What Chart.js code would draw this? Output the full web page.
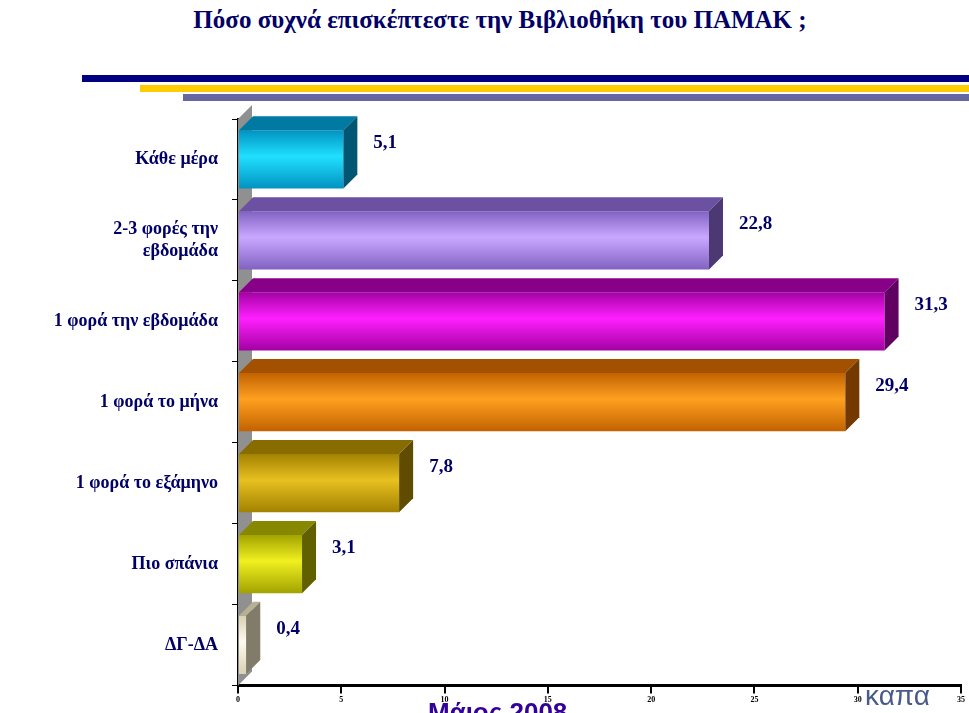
<!DOCTYPE html>
<html><head><meta charset="utf-8">
<script src="https://cdn.jsdelivr.net/npm/chart.js@4"></script>
<style>
body{margin:0;width:969px;height:713px;overflow:hidden;background:#fff;position:relative;font-family:"Liberation Serif",serif}
#t{position:absolute;top:6px;left:0;width:1000px;text-align:center;color:#000066;font-weight:bold;font-size:25px}
.ln{position:absolute;right:0}
#c{position:absolute;left:0;top:0}
#may{position:absolute;left:428px;top:697px;color:#330099;font-family:"Liberation Sans";font-weight:bold;font-size:26px}
#kapa{position:absolute;left:865px;top:680px;color:#4a5a8a;font-family:"Liberation Sans";font-size:28px}
</style></head><body>
<div id="t">Πόσο συχνά επισκέπτεστε την Βιβλιοθήκη του ΠΑΜΑΚ ;</div>
<div class="ln" style="top:75px;left:82px;height:7px;background:#000080"></div>
<div class="ln" style="top:85px;left:140px;height:7px;background:#ffcc00"></div>
<div class="ln" style="top:94px;left:183px;height:7px;background:#6666a0"></div>
<canvas id="c" width="969" height="713"></canvas>
<div id="may">Μάιος 2008</div>
<div id="kapa">καπα</div>
<script>
const categories=["Κάθε μέρα",["2-3 φορές την","εβδομάδα"],"1 φορά την εβδομάδα","1 φορά το μήνα","1 φορά το εξάμηνο","Πιο σπάνια","ΔΓ-ΔΑ"];
const values=[5.1,22.8,31.3,29.4,7.8,3.1,0.4];
const xTicks=[0,5,10,15,20,25,30,35];
const colors=[["#20e0ff","#0090c0"],["#c8a8ff","#8060c0"],["#ff20ff","#a000a0"],["#ffa020","#c06000"],["#e8c020","#a08000"],["#f0f020","#a0a000"],["#fffaf0","#d8d0b0"]];
const D=14;
function shade(h,f){const n=parseInt(h.slice(1),16);let r=(n>>16)*f,g=(n>>8&255)*f,b=(n&255)*f;return `rgb(${r|0},${g|0},${b|0})`;}
const depth={id:'depth',beforeDatasetsDraw(ch){const c=ch.ctx,a=ch.chartArea;c.save();c.fillStyle='#909090';c.beginPath();c.moveTo(a.left,a.bottom);c.lineTo(a.left,a.top);c.lineTo(a.left+D,a.top-D);c.lineTo(a.left+D,a.bottom-D);c.closePath();c.fill();c.restore();},
afterDatasetsDraw(ch){const c=ch.ctx;c.save();ch.getDatasetMeta(0).data.forEach((b,i)=>{const x0=b.base,x1=b.x,y0=b.y-b.height/2,y1=b.y+b.height/2;const col=colors[i][1];
c.fillStyle=shade(col,0.85);c.beginPath();c.moveTo(x0,y0);c.lineTo(x0+D,y0-D);c.lineTo(x1+D,y0-D);c.lineTo(x1,y0);c.fill();
c.fillStyle=shade(col,0.6);c.beginPath();c.moveTo(x1,y0);c.lineTo(x1+D,y0-D);c.lineTo(x1+D,y1-D);c.lineTo(x1,y1);c.fill();
c.fillStyle='#000066';c.font='bold 19px "Liberation Serif"';c.textBaseline='middle';c.fillText(values[i].toFixed(1).replace('.',','),x1+D+16,b.y-D-2);});c.restore();}};
new Chart(document.getElementById('c'),{type:'bar',
data:{labels:categories,datasets:[{data:values,borderWidth:0,barPercentage:0.72,categoryPercentage:1,
backgroundColor:(ctx)=>{const ch=ctx.chart,a=ch.chartArea;const c=colors[ctx.dataIndex];if(!a||!ch.scales.y)return c[0];const y=ch.scales.y.getPixelForValue(ctx.dataIndex);if(!isFinite(y))return c[0];const h=30;const g=ch.ctx.createLinearGradient(0,y-h,0,y+h);g.addColorStop(0,c[1]);g.addColorStop(0.45,c[0]);g.addColorStop(1,c[1]);return g;}}]},
options:{indexAxis:'y',responsive:false,animation:false,events:[],
layout:{padding:{top:119,right:8,bottom:6,left:0}},
plugins:{legend:{display:false},tooltip:{enabled:false}},
scales:{x:{min:0,max:35,afterBuildTicks:s=>{s.ticks=xTicks.map(v=>({value:v}));},
grid:{drawOnChartArea:false,color:'#000',tickLength:8,lineWidth:2},border:{color:'#000',width:3},
ticks:{color:'#000',font:{size:8,weight:'bold',family:'Liberation Serif'},padding:2}},
y:{afterFit:s=>{s.width=238;},grid:{drawOnChartArea:false,offset:true,color:'#000',tickLength:6},border:{color:'#000',width:2},
ticks:{color:'#000066',padding:14,font:{size:18,weight:'bold',family:'Liberation Serif'}}}}},
plugins:[depth]});
</script></body></html>
